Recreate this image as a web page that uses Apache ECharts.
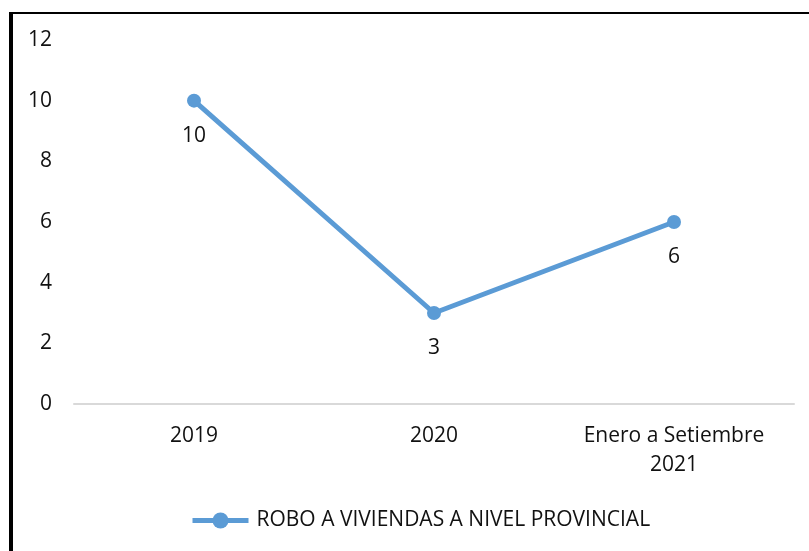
<!DOCTYPE html>
<html>
<head>
<meta charset="utf-8">
<script src="https://cdn.jsdelivr.net/npm/echarts@6/dist/echarts.min.js"></script>
<style>
  html, body { margin: 0; padding: 0; background: #fff; }
  #chart { position: absolute; left: 0; top: 0; width: 809px; height: 551px; }
  #frame { position: absolute; left: 9px; top: 12px; width: 820px; height: 560px;
           border-left: 4px solid #000; border-top: 2px solid #000; pointer-events: none; }
</style>
</head>
<body>
<div id="chart"></div>
<div id="frame"></div>
<script>
  var categories = ['2019', '2020', 'Enero a Setiembre\n2021'];
  var values = [10, 3, 6];
  var seriesName = 'ROBO A VIVIENDAS A NIVEL PROVINCIAL';
  var yTicks = { min: 0, max: 12, interval: 2 };

  var font = '"Open Sans", sans-serif';
  var chart = echarts.init(document.getElementById('chart'));
  chart.setOption({
    animation: false,
    textStyle: { fontFamily: font },
    grid: { left: 74, right: 15, top: 40, bottom: 147 },
    legend: {
      bottom: 15,
      left: 185,
      itemWidth: 56,
      itemHeight: 20,
      lineStyle: { width: 5 },
      textStyle: { fontSize: 21, color: '#111', fontFamily: font, padding: [0, 0, 0, 3] },
      data: [seriesName]
    },
    xAxis: {
      type: 'category',
      data: categories,
      boundaryGap: true,
      axisLine: { lineStyle: { color: '#d9d9d9', width: 2 } },
      axisTick: { show: false },
      axisLabel: { fontSize: 21, color: '#111', margin: 18, lineHeight: 29, fontFamily: font }
    },
    yAxis: {
      type: 'value',
      min: yTicks.min,
      max: yTicks.max,
      interval: yTicks.interval,
      splitLine: { show: false },
      axisLine: { show: false },
      axisTick: { show: false },
      axisLabel: { fontSize: 21, color: '#111', margin: 22, fontFamily: font }
    },
    series: [{
      name: seriesName,
      type: 'line',
      data: values,
      symbol: 'circle',
      symbolSize: 14,
      lineStyle: { color: '#5B9BD5', width: 5 },
      itemStyle: { color: '#5B9BD5' },
      label: { show: true, position: 'bottom', distance: 18, fontSize: 21, color: '#111', fontFamily: font }
    }]
  });
</script>
</body>
</html>
